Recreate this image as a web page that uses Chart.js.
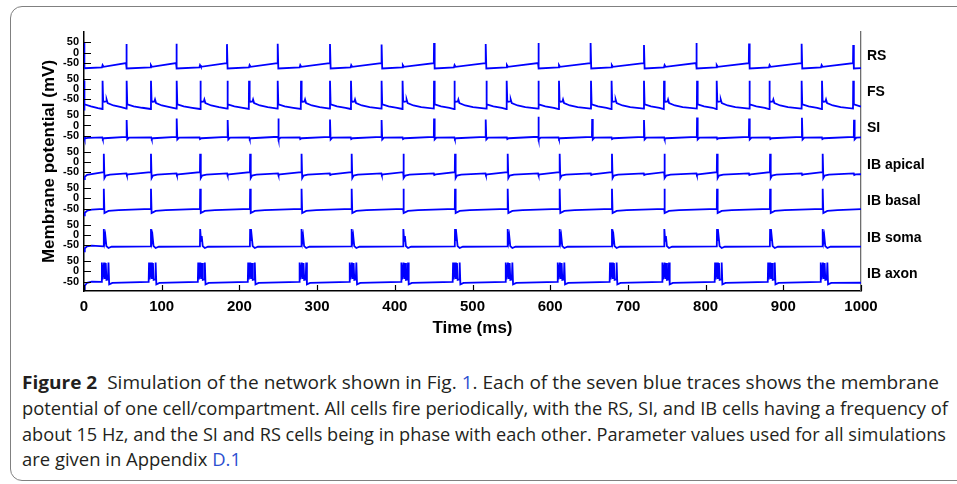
<!DOCTYPE html>
<html>
<head>
<meta charset="utf-8">
<script src="https://cdn.jsdelivr.net/npm/chart.js@4.4.1/dist/chart.umd.min.js"></script>
<style>
  html, body { margin: 0; padding: 0; background: #fff; }
  body { width: 957px; height: 484px; position: relative; overflow: hidden; }
  #frame { position: absolute; left: 10px; top: 6px; width: 990px; height: 475px;
           border: 1.3px solid #808080; border-radius: 12px; box-sizing: border-box; }
  #chartBox { position: absolute; left: 0; top: 0; width: 957px; height: 345px; }
  #caption { position: absolute; left: 22px; top: 370px; font-family: 'Open Sans', sans-serif;
             font-size: 17.5px; line-height: 25.8px; color: #231f20; }
  #caption div { white-space: nowrap; width: max-content; transform-origin: 0 50%; }
  #caption b { font-weight: 700; }
  #caption .ref { color: #2c4fd0; }
</style>
</head>
<body>
<div id="frame"></div>
<div id="chartBox"><canvas id="traces" width="957" height="345"></canvas></div>
<div id="caption">
  <div data-w="917"><b>Figure 2</b>&nbsp; Simulation of the network shown in Fig. <span class="ref">1</span>. Each of the seven blue traces shows the membrane</div>
  <div data-w="926">potential of one cell/compartment. All cells fire periodically, with the RS, SI, and IB cells having a frequency of</div>
  <div data-w="924">about 15 Hz, and the SI and RS cells being in phase with each other. Parameter values used for all simulations</div>
  <div data-w="219">are given in Appendix <span class="ref">D.1</span></div>
</div>
<script>
// ---- data (time in ms, potential in mV) ----
const traceNames = ['RS', 'FS', 'SI', 'IB apical', 'IB basal', 'IB soma', 'IB axon']
const yTickLabels = ['50', '0', '-50']
const yTickValues = [50, 0, -50]

const rsSpikes = [54.4, 118.8, 184, 249.3, 316.6, 383, 450.5, 517, 584.7, 652, 720.7, 788, 855.9, 923.6, 990]
const rsPeaks = [42, 43, 41, 43, 42, 39, 46, 42, 47, 47, 37, 47, 44, 43, 37]
const rsBumps = [23.6, 85.8, 149, 212.8, 278, 343.6, 410, 476.6, 544, 611, 679, 746.9, 814, 882, 949]

const fsSpikesA = [54.9, 119.3, 184.5, 249.3, 316.6, 383, 450.5, 517.8, 584.7, 652.5, 720.7, 789, 856.3, 923.6, 990]
const fsSpikesB = [23.9, 86.2, 149.7, 212.4, 279.3, 343.6, 410, 476.6, 544, 611.3, 679, 746.5, 814.3, 882, 949.8]

const siSpikes = [54.9, 119.3, 184.9, 250, 316.6, 383, 450.5, 517, 584.7, 654, 720.7, 789, 856, 924, 991]
const siPeaks = [26, 34, 26, 34, 29, 26, 34, 29, 42, 31, 26, 39, 34, 37, 28]
const siNotches = [23.9, 86.9, 149, 213, 278, 343.6, 410.3, 477, 544.5, 611, 679.3, 747, 814.7, 883, 950]

const ibSpikes = [25.5, 86.2, 149.5, 213.8, 280, 344.5, 411, 477.5, 545.3, 612.2, 679.5, 746.9, 814.7, 883, 950.7]
const apNotches = [54.9, 119.3, 184.5, 250, 316.6, 383, 450.5, 517, 584.7, 652.5, 720.7, 788.5, 856, 924, 991]

// waveform pieces: [ms from event, mV]; null = that spike's peak
const rsStart = [[0, 50], [0.5, -76]]
const rsSpike = [[-0.3, -51], [0, null], [0.8, -77]]
const rsBump = [[-0.5, -72], [0.3, -61], [1.5, -69]]
const rsEnd = [[1000, -75]]

const fsStart = [[0, 42], [0.3, -104], [0.8, -74], [9, -84], [18, -93]]
const fsSpikeA = [[-0.3, -95], [0, 40], [0.8, -74], [9, -84], [20, -91]]
const fsSpikeB = [[-0.3, -97], [0, 40], [0.8, -63], [4.5, -60], [5.2, -51], [6.5, -68], [14, -80], [24, -88]]
const fsEnd = [[1000, -85]]

const siStart = [[0, -51], [0.8, -63], [5, -60]]
const siSpike = [[-0.3, -55], [0, null], [0.8, -68], [3, -59]]
const siNotch = [[-0.3, -58], [0.3, -66], [2, -62]]
const siEnd = [[1000, -58]]

const apStart = [[0, -83], [1, -72], [4, -63]]
const apSpike = [[-0.3, -50], [0, 40], [0.8, -78], [2.5, -66], [8, -62]]
const apNotch = [[-0.3, -56], [0.3, -64], [2, -61]]
const apEnd = [[1000, -60]]

const baStart = [[0, -83], [1, -70], [4, -60], [10, -55]]
const baSpike = [[-0.3, -51], [0, 47], [0.8, -71], [6, -61], [19, -57]]
const baEnd = [[1000, -52]]

const soStart = [[0, -81], [1, -66], [4, -56], [10, -53]]
const soSpike = [[-0.3, -56], [0, 28], [1.1, -30], [2, -6], [3.3, -55], [6, -64], [10, -58]]
const soEnd = [[1000, -57]]

const axStart = [[0, -87], [1, -70], [4, -56], [10, -51]]
const axBurst = [[-3, -52], [-2.5, 42], [-1.6, -40], [0.3, 42], [1.2, -38], [2.5, 40], [3.4, -42],
                 [5.3, -40], [6, 42], [6.9, -64], [11, -57]]
const axEnd = [[1000, -56]]

const xTickValues = [0, 100, 200, 300, 400, 500, 600, 700, 800, 900, 1000]

// ---- layout ----
const PANEL_GAP = 177
const Y_MAX = 100
const Y_MIN = -PANEL_GAP * 6 - 96

function pts(list) {
  return list.map(([t, v]) => ({ x: t, y: v }))
}
function place(times, shape, peaks) {
  return times.flatMap((t, k) => shape.map(([dt, v]) => ({ x: t + dt, y: v === null ? peaks[k] : v })))
}
function trace(parts) {
  return parts.flat().sort((a, b) => a.x - b.x)
}

const traces = [
  trace([pts(rsStart), place(rsSpikes, rsSpike, rsPeaks), place(rsBumps, rsBump), pts(rsEnd)]),
  trace([pts(fsStart), place(fsSpikesA, fsSpikeA), place(fsSpikesB, fsSpikeB), pts(fsEnd)]),
  trace([pts(siStart), place(siSpikes, siSpike, siPeaks), place(siNotches, siNotch), pts(siEnd)]),
  trace([pts(apStart), place(ibSpikes, apSpike), place(apNotches, apNotch), pts(apEnd)]),
  trace([pts(baStart), place(ibSpikes, baSpike), pts(baEnd)]),
  trace([pts(soStart), place(ibSpikes, soSpike), pts(soEnd)]),
  trace([pts(axStart), place(ibSpikes, axBurst), pts(axEnd)]),
]

const datasets = traces.map((points, i) => ({
  label: traceNames[i],
  data: points.map((p) => ({ x: p.x, y: p.y - PANEL_GAP * i })),
  borderColor: '#0000ff',
  borderWidth: 1.8,
  pointRadius: 0,
  tension: 0,
  fill: false,
}))

const leftTicks = traceNames.flatMap((_, i) => yTickValues.map((v) => v - PANEL_GAP * i))
const leftLabels = traceNames.flatMap(() => yTickLabels)
const nameTicks = traceNames.map((_, i) => -15 - PANEL_GAP * i)

const inwardTicks = {
  id: 'inwardTicks',
  afterDraw(chart) {
    const { ctx, chartArea, scales } = chart
    ctx.save()
    ctx.strokeStyle = '#000'
    ctx.lineWidth = 1.2
    ctx.beginPath()
    scales.y.ticks.forEach((t) => {
      const py = Math.round(scales.y.getPixelForValue(t.value)) + 0.5
      ctx.moveTo(chartArea.left, py)
      ctx.lineTo(chartArea.left + 7, py)
    })
    scales.x.ticks.forEach((t) => {
      const px = Math.round(scales.x.getPixelForValue(t.value)) + 0.5
      ctx.moveTo(px, chartArea.bottom)
      ctx.lineTo(px, chartArea.bottom - 6)
    })
    ctx.stroke()
    ctx.restore()
  },
}

Chart.defaults.font.family = "'Liberation Sans', Arial, sans-serif"
Chart.defaults.color = '#000'

new Chart(document.getElementById('traces'), {
  type: 'line',
  data: { datasets },
  options: {
    responsive: false,
    animation: false,
    devicePixelRatio: 1,
    layout: { padding: { top: 32, left: 0, right: 0, bottom: 0 } },
    plugins: { legend: { display: false }, tooltip: { enabled: false } },
    scales: {
      x: {
        type: 'linear',
        min: 0,
        max: 1000,
        afterBuildTicks: (s) => { s.ticks = xTickValues.map((v) => ({ value: v })) },
        ticks: { autoSkip: false, maxRotation: 0, padding: 7, font: { size: 15, weight: 'bold' }, callback: (v) => String(v) },
        grid: { display: false, drawTicks: false },
        border: { display: true, color: '#000', width: 1.5 },
        title: { display: true, text: 'Time (ms)', font: { size: 17, weight: 'bold' }, padding: { top: 0, bottom: 6 } },
        afterFit: (s) => { s.height = 54 },
      },
      y: {
        position: 'left',
        min: Y_MIN,
        max: Y_MAX,
        afterBuildTicks: (s) => { s.ticks = leftTicks.map((v) => ({ value: v })) },
        ticks: { autoSkip: false, padding: 5, font: { size: 11, weight: 'bold' }, callback: (v, i) => leftLabels[i] },
        grid: { display: false, drawTicks: false },
        border: { display: true, color: '#000', width: 1.5 },
        title: { display: true, text: 'Membrane potential (mV)', font: { size: 17, weight: 'bold' }, padding: { top: 39, bottom: 0 } },
        afterFit: (s) => { s.width = 84 },
      },
      names: {
        position: 'right',
        min: Y_MIN,
        max: Y_MAX,
        afterBuildTicks: (s) => { s.ticks = nameTicks.map((v) => ({ value: v })) },
        ticks: { autoSkip: false, padding: 6, font: { size: 14, weight: 'bold' }, callback: (v, i) => traceNames[i] },
        grid: { display: false, drawTicks: false },
        border: { display: true, color: '#6e6e6e', width: 1.3 },
        afterFit: (s) => { s.width = 96 },
      },
    },
  },
  plugins: [inwardTicks],
})

// squeeze caption lines to the reference line widths
document.querySelectorAll('#caption div').forEach((line) => {
  const w = line.getBoundingClientRect().width
  line.style.transform = 'scaleX(' + (Number(line.dataset.w) / w) + ')'
})
</script>
</body>
</html>
